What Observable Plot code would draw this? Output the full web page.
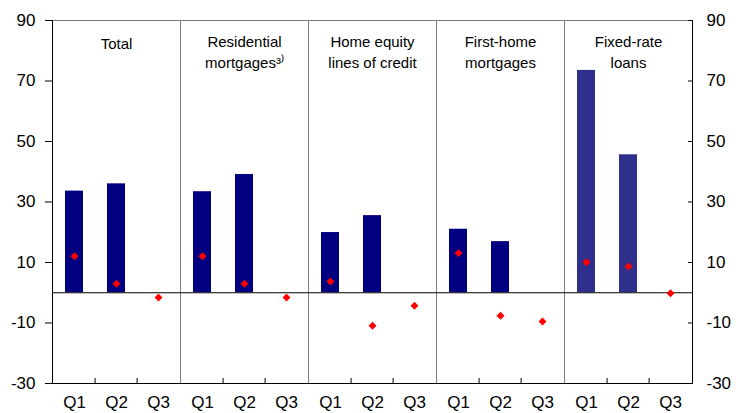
<!DOCTYPE html>
<html>
<head>
<meta charset="utf-8">
<script src="https://cdn.jsdelivr.net/npm/d3@7"></script>
<script src="https://cdn.jsdelivr.net/npm/@observablehq/plot@0.6"></script>
<style>
  html, body { margin: 0; padding: 0; background: #fff; }
  #chart { width: 736px; height: 413px; overflow: hidden; }
</style>
</head>
<body>
<div id="chart"></div>
<script>
// ---- data ----
const panelKeys = ["total", "resid", "heloc", "first", "fixed"];
const panelLabels = ["Total", "Residential\nmortgages³⁾", "Home equity\nlines of credit", "First-home\nmortgages", "Fixed-rate\nloans"];
const quarters = ["Q1", "Q2", "Q3"];
const barTotal = [33.6, 36.0, null];
const barResid = [33.4, 39.1, null];
const barHeloc = [19.9, 25.5, null];
const barFirst = [21.0, 16.9, null];
const barFixed = [73.5, 45.6, null];
const ptTotal = [12.1, 3.0, -1.6];
const ptResid = [12.1, 3.0, -1.6];
const ptHeloc = [3.7, -10.9, -4.3];
const ptFirst = [13.1, -7.6, -9.5];
const ptFixed = [10.1, 8.7, -0.2];
const yTicks = [-30, -10, 10, 30, 50, 70, 90];

const barSeries = [barTotal, barResid, barHeloc, barFirst, barFixed];
const ptSeries = [ptTotal, ptResid, ptHeloc, ptFirst, ptFixed];
const rows = panelKeys.flatMap((p, i) => quarters.map((q, j) => ({
  panel: p, quarter: q, bar: barSeries[i][j], point: ptSeries[i][j]
})));
const panels = panelKeys.map((k, i) => ({key: k, label: panelLabels[i]}));

const W = 736, H = 413, mL = 51, mR = 43;
const step = (W - mL - mR) / panelKeys.length / quarters.length;
const fmt = d => String(d);

const chart = Plot.plot({
  width: W,
  height: H,
  marginTop: 20,
  marginBottom: 30,
  marginLeft: mL,
  marginRight: mR,
  style: {fontFamily: "'Liberation Sans', Arial, sans-serif", fontSize: "17px", color: "#000", background: "#fff"},
  fx: {domain: panelKeys, padding: 0, axis: null},
  x: {domain: quarters, paddingInner: 0.56, paddingOuter: 0.28},
  y: {domain: [-30, 90]},
  marks: [
    Plot.barY(rows.filter(d => d.bar != null), {
      fx: "panel", x: "quarter", y: "bar",
      fill: d => d.panel === "fixed" ? "#2f2f8c" : "#000080"
    }),
    Plot.frame({stroke: "#7a7a7a"}),
    Plot.ruleY([0, -30], {stroke: "#000", strokeWidth: 1}),
    Plot.frame({facet: "super", anchor: "left", stroke: "#000"}),
    Plot.frame({facet: "super", anchor: "right", stroke: "#000"}),
    Plot.dot(rows, {
      fx: "panel", x: "quarter", y: "point",
      symbol: "diamond2", r: 3.6, fill: "#ff0000", stroke: null
    }),
    Plot.text(panels.filter(d => d.key === "total"), {
      fx: "key", text: "label", frameAnchor: "top", lineAnchor: "top",
      dy: 18, fontSize: 15
    }),
    Plot.text(panels.filter(d => d.key !== "total"), {
      fx: "key", text: "label", frameAnchor: "top", lineAnchor: "top",
      dy: 12.5, fontSize: 15, lineHeight: 1.35
    }),
    Plot.axisY(yTicks, {anchor: "left", tickSize: 7, tickPadding: 10, tickFormat: fmt, label: null}),
    Plot.axisY(yTicks, {anchor: "right", tickSize: 5, dx: -5, tickFormat: () => "", label: null}),
    Plot.axisY(yTicks, {anchor: "right", tickSize: 0, tickPadding: 14, tickFormat: fmt, label: null}),
    Plot.axisX(quarters, {anchor: "bottom", tickSize: 0, tickPadding: 12, label: null}),
    Plot.axisX(["Q2", "Q3"], {anchor: "bottom", tickSize: 5, dy: -5, dx: -step / 2, tickFormat: () => "", label: null})
  ]
});
document.getElementById("chart").appendChild(chart);
</script>
</body>
</html>
